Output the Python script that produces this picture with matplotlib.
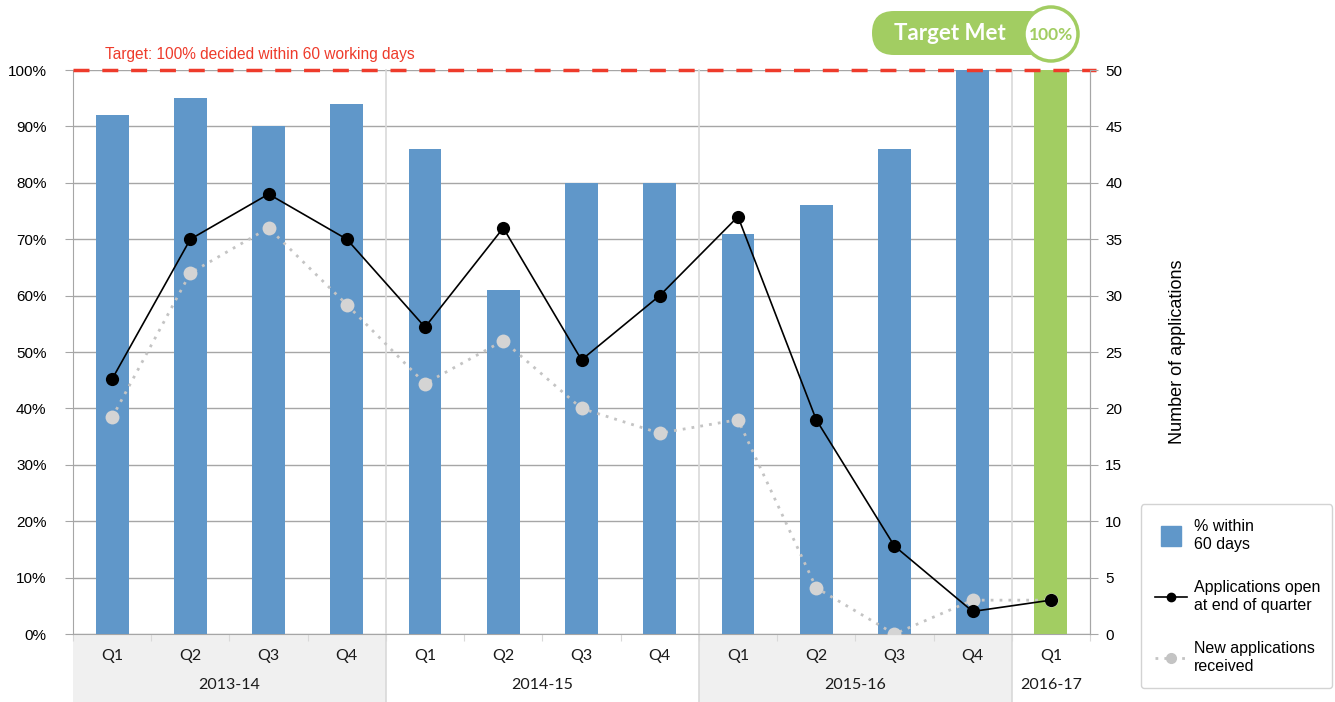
import matplotlib
matplotlib.use("Agg")
import matplotlib.pyplot as plt
from matplotlib.patches import Rectangle, FancyBboxPatch, Circle, Patch
from matplotlib.lines import Line2D
from matplotlib.legend_handler import HandlerPatch
from matplotlib.transforms import IdentityTransform, blended_transform_factory

# ---------------- data ----------------
quarters = ["Q1", "Q2", "Q3", "Q4", "Q1", "Q2", "Q3", "Q4", "Q1", "Q2", "Q3", "Q4", "Q1"]
years = ["2013-14", "2014-15", "2015-16", "2016-17"]
year_sizes = [4, 4, 4, 1]
pct_within_60 = [92, 95, 90, 94, 86, 61, 80, 80, 71, 76, 86, 100, 100]
open_end_quarter = [22.6, 35, 39, 35, 27.2, 36, 24.3, 30, 37, 19, 7.8, 2, 3]
new_received = [19.2, 32, 36, 29.2, 22.2, 26, 20, 17.8, 19, 4.1, 0, 3, 3]
target_pct = 100
highlight_index = 12

BLUE = "#6097c9"
GREEN = "#a2cd62"
GRID = "#a6a6a6"
SEP = "#d9d9d9"
RED = "#ee3b2b"
ARIAL = ["Liberation Sans", "DejaVu Sans"]
CAL = ["Lato", "DejaVu Sans"]

W, H = 1335, 702
fig = plt.figure(figsize=(W / 100, H / 100), dpi=100)
L, R, T, B = 73, 1090, 70, 634
ax = fig.add_axes([L / W, 1 - B / H, (R - L) / W, (B - T) / H])
ax2 = ax.twinx()

n = len(quarters)
xs = list(range(n))
colors = [GREEN if i == highlight_index else BLUE for i in xs]
ax.bar(xs, pct_within_60, width=0.42, color=colors, zorder=3)
ax.set_xlim(-0.5, n - 0.5)
ax.set_ylim(0, 100)
ax.set_yticks(range(0, 101, 10))
ax.set_yticklabels([f"{v}%" for v in range(0, 101, 10)], fontsize=11, family=ARIAL)
ax.yaxis.grid(True, color=GRID, lw=1, zorder=0)
ax.set_axisbelow(True)
ax.tick_params(axis="y", direction="out", length=6, color=GRID, pad=13)
ax.set_xticks([i - 0.5 for i in range(n + 1)])
ax.set_xticklabels([])
ax.tick_params(axis="x", direction="out", length=5, color=SEP)
ax.spines["top"].set_visible(False)
ax.spines["left"].set_color(GRID)
ax.spines["bottom"].set_color(GRID)
ax.spines["right"].set_color(GRID)

# group separators and category labels
bl = blended_transform_factory(ax.transData, ax.transAxes)
ext = (H - B) / (B - T)
pos = 0
for gi, (yr, sz) in enumerate(zip(years, year_sizes)):
    if gi % 2 == 0:
        ax.add_patch(Rectangle((pos - 0.5, -ext), sz, ext, transform=bl, color="#f0f0f0",
                               clip_on=False, zorder=0, lw=0))
    ax.text(pos - 0.5 + sz / 2, -(685 - B) / (B - T), yr, transform=bl, ha="center", va="center",
            fontsize=11.5, family=CAL, color="#1a1a1a")
    pos += sz
    if pos < n:
        ax.add_line(Line2D([pos - 0.5, pos - 0.5], [-ext, 1], transform=bl, color=SEP, lw=1.2,
                           clip_on=False, zorder=1))
for i, q in enumerate(quarters):
    ax.text(i, -(656 - B) / (B - T), q, transform=bl, ha="center", va="center",
            fontsize=11.5, family=CAL, color="#1a1a1a")

# target line
ax.add_line(Line2D([-0.5, n - 0.42], [target_pct, target_pct], color=RED, lw=2.5,
                   dashes=(4.6, 3.7), clip_on=False, zorder=6))
ax.text(-0.09, 102.8, "Target: 100% decided within 60 working days", color=RED,
        fontsize=11.2, family=ARIAL, ha="left", va="center", clip_on=False)

# lines on secondary axis
ax2.set_ylim(0, 50)
ax2.set_yticks(range(0, 51, 5))
ax2.set_yticklabels([str(v) for v in range(0, 51, 5)], fontsize=11, family=ARIAL)
ax2.tick_params(axis="y", direction="out", length=6, color=GRID, pad=5)
for s in ["top", "left", "bottom"]:
    ax2.spines[s].set_visible(False)
ax2.spines["right"].set_color(GRID)
ax2.plot(xs, new_received, color="#c4c4c4", lw=2, ls=(0, (1, 2.2)), marker="o", ms=10,
         mfc="#d4d4d4", mec="#d4d4d4", mew=0, zorder=4)
ax2.plot(xs, open_end_quarter, color="black", lw=1.2, marker="o", ms=9.5, mfc="black",
         mec="black", mew=0, zorder=5)
ax2.set_ylabel("Number of applications", fontsize=13, family=ARIAL, labelpad=34)

# legend
def square_patch(legend, orig_handle, xdescent, ydescent, width, height, fontsize):
    s = 14.5
    return Rectangle((xdescent + (width - s) / 2, ydescent + (height - s) / 2), s, s)

handles = [Patch(color=BLUE),
           Line2D([], [], color="black", lw=1.2, marker="o", ms=6),
           Line2D([], [], color="#c4c4c4", lw=2, ls=(0, (1, 2.2)), marker="o", ms=7,
                  mfc="#c4c4c4", mec="#c4c4c4")]
labels = ["% within\n60 days", "Applications open\nat end of quarter", "New applications\nreceived"]
leg = fig.legend(handles, labels, loc="lower left",
                 bbox_to_anchor=(1141 / W, 14 / H, 191 / W, 185 / H), mode="expand",
                 prop={"family": ARIAL, "size": 11.5}, frameon=True, fancybox=True,
                 edgecolor="#c8c8c8", labelspacing=1.75, handlelength=2.0, borderpad=0.9,
                 handletextpad=0.4, borderaxespad=0,
                 handler_map={Patch: HandlerPatch(patch_func=square_patch)})
leg.get_frame().set_linewidth(1.0)
for t in leg.get_texts():
    t.set_linespacing(1.25)

# badge
ident = IdentityTransform()
def yy(y):
    return H - y
pill = FancyBboxPatch((872, yy(55)), 1051 - 872, 44, boxstyle="round,pad=0,rounding_size=22",
                      transform=ident, facecolor=GREEN, edgecolor="none", figure=fig)
fig.patches.append(pill)
circ = Circle((1051, yy(34)), 27, transform=ident, facecolor="white", edgecolor=GREEN, lw=2.5, figure=fig)
fig.patches.append(circ)
fig.text(950 / W, 1 - 33 / H, "Target Met", color="white", fontsize=16, fontweight="bold",
         family=CAL, ha="center", va="center")
fig.text(1051 / W, 1 - 35 / H, "100%", color=GREEN, fontsize=12.5, fontweight="bold",
         family=CAL, ha="center", va="center")

fig.savefig("out.png", dpi=100)
